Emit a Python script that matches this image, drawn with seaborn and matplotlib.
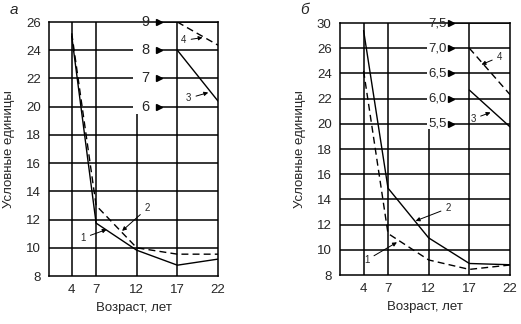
import numpy as np
import pandas as pd
import matplotlib
matplotlib.use("Agg")
import matplotlib.pyplot as plt
import seaborn as sns

# ---------------- data ----------------
ages = [4, 7, 12, 17, 22]
age_ticks = [4, 7, 12, 17, 22]

# panel a (main scale)
a_curve1 = [25.0, 11.75, 9.83, 8.77, 9.2]     # solid
a_curve2 = [25.2, 13.0, 10.0, 9.55, 9.55]     # dashed
# panel a (inset scale 6..9)
inset_ages = [17, 22]
a_curve3 = [8.0, 6.2]                         # solid
a_curve4 = [9.0, 8.18]                        # dashed
a_yticks = [8, 10, 12, 14, 16, 18, 20, 22, 24, 26]
a_ylabels = ["8", "10", "12", "14", "16", "18", "20", "22", "24", "26"]
a_inset_labels = ["9", "8", "7", "6"]
a_inset_values = [9, 8, 7, 6]

# panel b (main scale)
b_curve1 = [24.2, 11.3, 9.2, 8.45, 8.8]       # dashed
b_curve2 = [27.4, 14.9, 10.95, 8.92, 8.82]    # solid
# panel b (inset scale 5.5..7.5)
b_curve3 = [6.17, 5.44]                       # solid
b_curve4 = [7.0, 6.08]                        # dashed
b_yticks = [8, 10, 12, 14, 16, 18, 20, 22, 24, 26, 28]
b_ylabels = ["8", "10", "12", "14", "16", "18", "20", "22", "24", "26", "30"]
b_inset_labels = ["7,5", "7,0", "6,5", "6,0", "5,5"]
b_inset_values = [7.5, 7.0, 6.5, 6.0, 5.5]

ylabel = "Условные единицы"
xlabel = "Возраст, лет"

# ---------------- style ----------------
sns.set_style("white")
plt.rcParams["font.family"] = ["Liberation Sans", "DejaVu Sans"]

fig = plt.figure(figsize=(5.21, 3.24), dpi=100)
ax_a = fig.add_axes([0.094, 0.148, 0.3244, 0.784])
ax_b = fig.add_axes([0.6526, 0.151, 0.3263, 0.778])

LW = 1.0
DASH = (5, 3)
FS = 9.5


def draw_curve(ax, x, y, dashed):
    df = pd.DataFrame({"x": x, "y": y})
    sns.lineplot(data=df, x="x", y="y", ax=ax, color="black", lw=LW,
                 estimator=None, sort=False)
    ln = ax.get_lines()[-1]
    if dashed:
        ln.set_dashes(DASH)


def setup(ax, xlim, ylim, yticks, ylabels, inset_vals, inset_labels, to_main,
          gap, tri_x, lbl_x, v12_top, ylab_x, inset_fs):
    ax.set_xlim(*xlim)
    ax.set_ylim(*ylim)
    for s in ax.spines.values():
        s.set_color("black")
        s.set_linewidth(1.1)
    ax.set_xticks(age_ticks)
    ax.set_xticklabels([str(t) for t in age_ticks], fontsize=FS)
    ax.set_yticks(yticks)
    ax.set_yticklabels(ylabels, fontsize=FS)
    ax.tick_params(length=0, pad=6)
    ax.set_xlabel(xlabel, fontsize=FS, labelpad=4)
    ax.set_ylabel(ylabel, fontsize=FS)
    ax.yaxis.set_label_coords(ylab_x, 0.5)

    inset_main = [to_main(v) for v in inset_vals]
    # horizontal grid lines
    for y in yticks[1:]:
        if any(abs(y - m) < 1e-6 for m in inset_main):
            continue
        ax.hlines(y, xlim[0], xlim[1], color="black", lw=1.1)
    for m, lab in zip(inset_main, inset_labels):
        if m < ylim[1] - 1e-6:
            ax.hlines(m, xlim[0], gap, color="black", lw=1.1)
        ax.hlines(m, tri_x, xlim[1], color="black", lw=1.1)
        ax.plot([tri_x - 0.3], [m], marker=">", color="black", ms=4.5,
                clip_on=False)
        ax.text(lbl_x, m, lab, fontsize=inset_fs, ha="right", va="center")
    # vertical grid lines
    for xv in [4, 7, 17]:
        ax.vlines(xv, ylim[0], ylim[1], color="black", lw=1.1)
    ax.vlines(12, ylim[0], v12_top, color="black", lw=1.1)


# panel a
to_main_a = lambda s: 2 * s + 8
setup(ax_a, (1.2, 22), (8, 26), a_yticks, a_ylabels, a_inset_values,
      a_inset_labels, to_main_a, gap=11.55, tri_x=15.0, lbl_x=13.6,
      v12_top=19.5, ylab_x=-0.2, inset_fs=10.5)
draw_curve(ax_a, ages, a_curve1, False)
draw_curve(ax_a, ages, a_curve2, True)
draw_curve(ax_a, inset_ages, [to_main_a(v) for v in a_curve3], False)
draw_curve(ax_a, inset_ages, [to_main_a(v) for v in a_curve4], True)

# panel b
to_main_b = lambda s: 4 * s - 2
setup(ax_b, (1.1, 22), (8, 28), b_yticks, b_ylabels, b_inset_values,
      b_inset_labels, to_main_b, gap=11.85, tri_x=15.0, lbl_x=14.25,
      v12_top=19.6, ylab_x=-0.2, inset_fs=9.5)
draw_curve(ax_b, ages, b_curve1, True)
draw_curve(ax_b, ages, b_curve2, False)
draw_curve(ax_b, inset_ages, [to_main_b(v) for v in b_curve3], False)
draw_curve(ax_b, inset_ages, [to_main_b(v) for v in b_curve4], True)

ap = dict(arrowstyle="-|>", color="black", lw=0.7, mutation_scale=6,
          shrinkA=1, shrinkB=0)
# annotations panel a
ax_a.annotate("1", xy=(8.3, 11.3), xytext=(5.4, 10.7), fontsize=7,
              ha="center", va="center", arrowprops=ap)
ax_a.annotate("2", xy=(10.2, 11.2), xytext=(13.3, 12.8), fontsize=7,
              ha="center", va="center", arrowprops=ap)
ax_a.annotate("4", xy=(20.1, 24.9), xytext=(17.8, 24.7), fontsize=7,
              ha="center", va="center", arrowprops=ap)
ax_a.annotate("3", xy=(20.8, 21.0), xytext=(18.4, 20.6), fontsize=7,
              ha="center", va="center", arrowprops=ap)
# annotations panel b
ax_b.annotate("1", xy=(8.1, 10.6), xytext=(4.4, 9.2), fontsize=7,
              ha="center", va="center", arrowprops=ap)
ax_b.annotate("2", xy=(10.4, 12.3), xytext=(14.4, 13.3), fontsize=7,
              ha="center", va="center", arrowprops=ap)
ax_b.annotate("4", xy=(18.5, 24.7), xytext=(20.7, 25.3), fontsize=7,
              ha="center", va="center", arrowprops=ap)
ax_b.annotate("3", xy=(19.6, 20.9), xytext=(17.5, 20.4), fontsize=7,
              ha="center", va="center", arrowprops=ap)

fig.text(14 / 521, 1 - 10 / 324, "а", fontsize=11, style="italic",
         ha="center", va="center")
fig.text(305 / 521, 1 - 10 / 324, "б", fontsize=11, style="italic",
         ha="center", va="center")

fig.savefig("out.png", dpi=100)
